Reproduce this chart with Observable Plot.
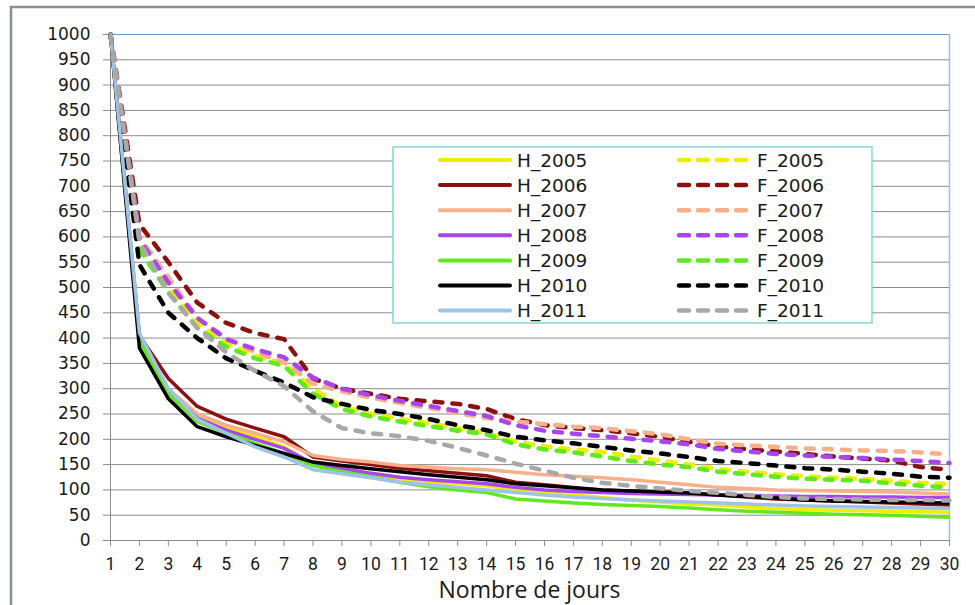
<!DOCTYPE html>
<html><head><meta charset="utf-8">
<script src="https://cdn.jsdelivr.net/npm/d3@7"></script>
<script src="https://cdn.jsdelivr.net/npm/@observablehq/plot@0.6"></script>
<style>body{margin:0;background:#fff} svg{display:block}</style>
</head><body><div id="chart"></div>
<script>
const days = [1,2,3,4,5,6,7,8,9,10,11,12,13,14,15,16,17,18,19,20,21,22,23,24,25,26,27,28,29,30];
const yTicks = [0,50,100,150,200,250,300,350,400,450,500,550,600,650,700,750,800,850,900,950,1000];
const seriesNames = ["H_2005","F_2005","H_2006","F_2006","H_2007","F_2007","H_2008","F_2008","H_2009","F_2009","H_2010","F_2010","H_2011","F_2011"];
const xLabel = "Nombre de jours";

const H_2005 = [1000,400,295,245,222,205,185,150,140,130,122,115,112,108,100,95,90,85,80,76,72,70,66,63,61,60,59,58,57,56];
const F_2005 = [1000,580,500,430,390,365,350,300,265,250,240,232,222,212,195,186,180,175,166,158,150,141,136,131,127,124,122,118,114,112];
const H_2006 = [1000,405,320,265,240,222,205,165,157,150,143,138,133,128,115,110,105,100,98,96,94,90,86,82,80,78,76,74,72,70];
const F_2006 = [1000,625,550,470,430,410,398,320,300,290,280,275,270,260,240,228,222,218,212,205,195,186,180,176,171,166,162,158,145,140];
const H_2007 = [1000,400,300,250,228,212,195,168,160,155,148,145,142,140,135,130,127,124,120,115,110,105,103,100,99,98,97,96,94,92];
const F_2007 = [1000,600,520,440,400,372,352,310,295,282,272,262,252,242,235,230,225,222,216,210,200,191,188,185,182,180,178,177,174,170];
const H_2008 = [1000,398,295,242,218,200,182,152,142,133,125,120,116,112,105,100,97,95,93,92,91,90,89,88,87,87,86,86,85,85];
const F_2008 = [1000,595,510,440,398,378,362,322,300,287,276,266,256,246,228,217,211,206,201,196,190,181,176,171,168,165,163,160,157,153];
const H_2009 = [1000,395,290,235,212,192,172,148,136,126,115,106,100,95,82,78,74,71,69,67,64,61,58,56,54,52,51,50,48,46];
const F_2009 = [1000,575,490,420,383,360,345,290,260,245,235,226,217,210,190,180,174,166,157,150,145,136,131,126,122,120,118,113,108,105];
const H_2010 = [1000,380,280,225,205,188,172,155,148,142,136,130,125,120,112,108,104,100,98,96,94,90,87,84,80,78,77,76,75,74];
const F_2010 = [1000,545,450,400,360,335,312,283,270,258,250,240,228,218,205,198,192,185,178,172,165,157,153,148,143,140,136,132,126,124];
const H_2011 = [1000,410,300,240,212,185,165,140,132,124,115,110,105,100,95,90,86,83,80,78,76,74,72,70,68,67,66,65,64,63];
const F_2011 = [1000,590,490,420,372,335,305,255,222,212,206,197,183,168,152,138,124,114,108,103,98,94,90,86,83,82,81,80,80,79];

const values = {H_2005,F_2005,H_2006,F_2006,H_2007,F_2007,H_2008,F_2008,H_2009,F_2009,H_2010,F_2010,H_2011,F_2011};
const colors = {
  H_2005:"#eeee00", F_2005:"#eeee00",
  H_2006:"#8c1010", F_2006:"#8c1010",
  H_2007:"#f7b08a", F_2007:"#f7b08a",
  H_2008:"#a845ee", F_2008:"#a845ee",
  H_2009:"#62e81e", F_2009:"#62e81e",
  H_2010:"#000000", F_2010:"#000000",
  H_2011:"#9ec3e6", F_2011:"#a8a8a8"
};
const DASH = "8,10";

const rows = seriesNames.flatMap(name => values[name].map((v,i) => ({name, day: days[i], value: v})));

const marks = [
  Plot.ruleY(yTicks.filter(t => t < 1000), {stroke:"#8c8c8c", strokeWidth:1}),
  Plot.ruleY([1000], {stroke:"#6a97cf", strokeWidth:1}),
  Plot.ruleX([30], {stroke:"#9dbfe0", strokeWidth:1.5}),
  Plot.ruleX([1], {stroke:"#8c8c8c", strokeWidth:1})
];
for (const name of seriesNames) {
  const dashed = name.startsWith("F");
  marks.push(Plot.line(rows.filter(d => d.name === name), {
    x:"day", y:"value", stroke: colors[name],
    strokeWidth: dashed ? 4.5 : 3.5,
    strokeDasharray: dashed ? DASH : null,
    strokeLinecap: dashed ? "round" : "butt",
    strokeLinejoin: "round"
  }));
}
marks.push(Plot.axisY({ticks: yTicks, tickSize: 7, tickPadding: 13, label: null, tickFormat: d => String(d)}));
marks.push(Plot.axisX({ticks: days, tickSize: 6, tickPadding: 11, label: null, tickFormat: d => String(d)}));

const chart = Plot.plot({
  width: 975, height: 605,
  marginLeft: 110, marginRight: 26, marginTop: 34, marginBottom: 65,
  x: {type: "linear", domain: [1, 30]},
  y: {domain: [0, 1000]},
  style: {background: "#fff", color: "#1a1a1a"},
  marks
});
document.getElementById("chart").appendChild(chart);

const svg = d3.select(chart);
svg.selectAll("g[aria-label='y-axis tick']").attr("stroke", "#8c8c8c");
svg.selectAll("g[aria-label='x-axis tick']").attr("stroke", "#8c8c8c");
svg.selectAll("g[aria-label='y-axis tick label']").attr("font-size", 17).attr("font-family", "DejaVu Sans").attr("fill", "#1a1a1a");
svg.selectAll("g[aria-label='x-axis tick label']").attr("font-size", 17.5).attr("font-family", "Roboto").attr("fill", "#1a1a1a");

// x axis title
svg.append("text").attr("x", 529.5).attr("y", 598).attr("text-anchor", "middle")
  .attr("font-family", "Open Sans").attr("font-size", 23).attr("fill", "#1a1a1a").text(xLabel);

// outer frame
svg.append("rect").attr("x", 11).attr("y", 7).attr("width", 1200).attr("height", 1200)
  .attr("fill", "none").attr("stroke", "#84928f").attr("stroke-width", 2.5);

// legend
const lg = svg.append("g").attr("text-anchor", "start");
lg.append("rect").attr("x", 393).attr("y", 147).attr("width", 479).attr("height", 176)
  .attr("fill", "#fff").attr("stroke", "#86d3de").attr("stroke-width", 1.5);
const rowY = i => 160 + i * 25.1;
seriesNames.forEach((name, k) => {
  const i = Math.floor(k / 2), dashed = k % 2 === 1;
  const x0 = dashed ? 679 : 440, x1 = dashed ? 749 : 510;
  lg.append("line").attr("x1", x0).attr("x2", x1).attr("y1", rowY(i)).attr("y2", rowY(i))
    .attr("stroke", colors[name]).attr("stroke-width", dashed ? 4.5 : 4)
    .attr("stroke-dasharray", dashed ? "10,9" : null)
    .attr("stroke-linecap", "round");
  lg.append("text").attr("x", dashed ? 757 : 517).attr("y", rowY(i)).attr("dy", "0.36em")
    .attr("text-anchor", "start")
    .attr("font-family", "DejaVu Sans").attr("font-size", 18.5).attr("fill", "#1a1a1a").text(name);
});
</script></body></html>
